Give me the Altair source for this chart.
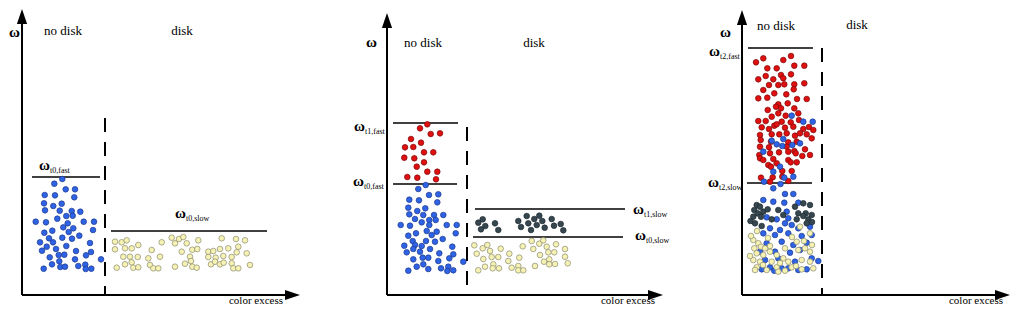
import altair as alt
import pandas as pd

# ---------------- data (page pixel coordinates) ----------------
p1_blue = [(62.3,179),(54.3,183.7),(65.7,189.3),(75,189.3),(44.7,195),(55,195.3),(74.3,197.3),(44,203.3),
           (53.3,206),(61.7,203.7),(45,210.3),(59.7,210.7),(71.7,211),(80.3,211.7),(57.3,218.7),(66.3,216),
           (72.7,215.7),(35.7,221.7),(46,222.3),(67.7,223.3),(83.7,221.7),(94,221.7),(63.3,227.3),(73.3,228.3),
           (44.3,232.7),(52.3,230.7),(68.7,232),(93,230),(79.3,235.7),(49,238.3),(62.3,237.7),(72,238.7),
           (40,242.3),(53,242.3),(46.7,246.7),(66.3,246),(90,243),(42,250.7),(56,249),(76,251),(91,252),
           (49.7,257.3),(58.7,255),(64.3,254.7),(86,255.3),(101,259.3),(75,259.3),(59.3,261.3),(52,264.3),
           (60.3,267),(65,266.7),(78.3,266),(85.3,264.7),(43.7,268.7),(85.7,269),(91.3,268.7)]
p1_yellow = [(115,241.7),(121.7,242.3),(126.7,240.3),(138.3,245),(115,249.3),(125,248.3),(131.7,248.3),
             (161.7,242.3),(171.7,237.7),(179,239),(183.3,237),(175,243.3),(186.7,243.3),(198.3,240.3),
             (221.7,238.3),(236,239),(245,240.3),(123.3,256.7),(130,256.7),(137.7,257),(151.7,250),
             (148.3,258.3),(160,256.7),(181.7,251.7),(192.3,249.7),(197.3,249),(190,256.7),(208.3,251.7),
             (213.3,251),(220,249),(228.3,248.3),(238.3,246.7),(236.7,252.3),(246.7,253.3),(208.3,257),
             (215.7,257.7),(223.3,256),(231.7,257),(116.7,267.7),(125,264.3),(131.7,262.3),(133.3,267.7),
             (138.3,267.3),(150,265),(153.3,268.3),(158.3,268.3),(175,266.7),(185,263.7),(191,261),
             (192.3,266.7),(196.7,267.7),(211,264.3),(215,261.7),(220,264.3),(223.7,262.7),(231.7,263.3),
             (233.3,268.3),(238.3,268.3),(250,265)]
p2_red = [(427.3,124.3),(420,128.3),(430.7,134),(440,133.3),(411,139),(421,142.7),(405,147.3),(413.3,147),
          (424,152.3),(433.3,152.3),(404.3,157.7),(414.3,158.3),(424,162.3),(416.7,166.7),(427.3,171.7),
          (437.3,171.7),(407.3,177),(417.3,177.7),(436,179.3)]
p2_blue = [(425.7,185),(418.3,189),(429,195),(438.3,194.3),(409.3,199.7),(419,200.3),(437.3,202.3),
           (408.3,207.7),(417.3,211),(425.3,208.3),(409.3,214.3),(423.3,215),(434,215),(443.3,215),(415,219),
           (429.3,220),(435.7,220),(421.7,222.3),(400.7,225),(410,225.7),(429.3,225),(446.7,225),(456.7,225),
           (426.7,231),(436.7,231.7),(455.7,233.3),(408.3,235.7),(416,233.3),(431.7,235),(412.7,241),(426,241),
           (435,241.7),(442.7,239),(404.3,245.7),(415,245),(421.7,246),(452.3,246.7),(406.7,252.3),(413.3,249),
           (420,251.7),(430,249),(439.3,253.3),(453.3,254.3),(413.3,259.3),(422.7,257.7),(428.3,257.7),
           (438.3,261),(449.3,258.3),(463.3,261.7),(416.7,266.7),(423.3,264.3),(428.3,269),(441,268.3),
           (448.3,266.7),(447.3,271),(453.3,270.3),(408.3,270.7)]
p2_gray = [(482.7,219.3),(478.3,222.7),(485.3,226),(481,229.3),(495,223.3),(498.3,230),(518.3,221),(521,227),
           (526.7,216),(528.3,223.3),(534.3,219),(539.3,215.7),(542.3,221),(536.7,225),(531,230),(544.7,227.7),
           (551.7,219),(554,225.7),(560.7,224),(563.3,230.3)]
p2_yellow = [(474.3,245.3),(482.7,248.3),(487.3,245),(476.7,253.7),(490,251),(500.7,248.7),(483.3,259),
             (491.7,257),(498.3,257),(509.3,253.7),(519.3,257.7),(522.7,246.3),(531.7,241),(533.3,249),
             (539.3,243.7),(543.3,240.3),(546.7,246.7),(556,244.3),(565,249),(540,255),(548.3,252.3),
             (554.3,252.3),(565,256.7),(485,266.7),(493.3,264.3),(492.7,268.3),(499,268.3),(508.3,261),
             (511.7,267.7),(518.3,266),(518.3,270.3),(523.3,270.3),(535,266),(544,261.7),(549.3,259.3),
             (549.3,264.3),(555,264),(567.7,263.3),(478.3,270.3)]
p3_red = [(756,62.3),(763.3,58.3),(783.3,60),(791,56),(767.3,68.3),(776.7,68.3),(794.3,65.7),(804.3,65.7),
          (758.3,79.3),(765.7,76),(773.3,79.3),(781,75),(783.3,78.3),(791,74.3),(763.3,90),(769,85),(778.3,85),
          (784.3,84.3),(794.3,84.3),(804.3,83.3),(793.7,89.3),(758.3,98.3),(767.3,97.7),(774.3,93.3),
          (786.3,94.3),(797,99),(806.7,99),(778.3,104.3),(787.7,103.3),(767.7,110),(776,106.7),(781,108.3),
          (794.3,108.3),(771.7,116.7),(778.3,113.3),(785.7,115.7),(798.3,113.3),(758.3,121),(765.7,121),
          (774.3,125.7),(781.7,121.7),(790.7,122.3),(799,120),(761.7,127.3),(769,129),(776.7,124.3),
          (785,127.7),(793.3,126.7),(803.3,129),(809,127),(813.3,130),(760,135),(771.7,134.3),(779.3,134.3),
          (786.7,133.3),(795,135.7),(800,133.3),(806.7,134.3),(811.7,138.3),(760.7,140),(771,141.7),
          (788.3,142.3),(796.7,141.7),(760,146.7),(769,147.3),(786.7,146.7),(794.3,151),
          (805,149.3),(759.3,155),(770,153.3),(779,152.3),(788.3,151.7),(795.7,153.3),(810,155),(802.3,156),
          (760,158.3),(763.3,160),(773.3,159),(788.3,160),(768.3,165),(776.7,163.3),(790.7,162.3),
          (796.7,162.3),(771,166.7),(782.3,171),(791.7,171),(761,177.7),(772.7,177.3),(782.3,176.7),
          (788.3,181),(770,181.7)]
p3_blue = [(791.7,115.7),(803.3,121.7),(812.7,121.7),(783.3,139),(771.7,140.7),(776.7,144.3),(782.3,146),
           (792.3,145),(800,143.3),(763.3,151.7),(780,166.7),(773.3,171.7),(784.3,177.7),(793.3,176.7),
           (764,181.7),(780.5,184),(773.3,188.3),(785,194),(793.3,194),(763.3,200),(773.3,201.7),(784.3,202.7),
           (798.3,202.7),(786.7,211.7),(766.7,217.3),(776.7,219.3),(788.3,218.3),(785,223.3),(791.7,225),
           (770,228.3),(780,230),(798.3,228.3),(810,226.7),(763.3,233.3),(775,235),(788.3,233.3),(801.7,236),
           (811.7,235),(766.7,243.3),(781.7,241.7),(793.3,245),(806.7,242.7),(760,251.7),(775,251.7),
           (790,252.7),(800,250),(765,260),(778.3,258.3),(795,261.7),(811.7,258.3),(818.3,261),(761.7,269.3),
           (770,267.3),(781.7,268.3),(788.3,268.3),(798.3,270),(806.7,269.3),(774.3,270.7)]
p3_gray = [(756.7,205),(760,206.7),(754.3,210),(757.7,213.3),(763.3,211.7),(767.7,209.3),(753.3,216.7),
           (761,216.7),(778.3,210),(783.3,215),(795,206.7),(803.3,203.3),(810,205),(798.3,213.3),(805.7,213.3),
           (811.7,215),(803.3,216),(808.3,219.3),(755,223.3),(761.7,226),(796.7,219.3),(806.7,223.3),
           (771.7,219.3),(812,222),(750.5,221)]
p3_yellow = [(753.3,240),(758.3,243.3),(754.3,248.3),(761,246.7),(765,248.3),(770,246),(756.7,253.3),
             (763.3,255),(770,251.7),(776.7,255),(785,248.3),(796.7,241.7),(798.3,250),(805,248.3),(810,251.7),
             (753.3,260),(760,261.7),(771.7,261.7),(783.3,258.3),(788.3,261.7),(801.7,260),(810,261.7),
             (756.7,267.3),(766.7,270),(776.7,267.3),(785,270.7),(791.7,267.3),(801.7,269.3),(755,270),
             (813.3,268.3),(778.3,271.7),(800,226.7),(810,233.3),(751,236),(768,238),(792,237),(804,241),
             (763,265),(796,266),(812,245),(750,256),(780,263),(757,231)]

groups = [("blue", p1_blue), ("yellow", p1_yellow), ("red", p2_red), ("blue", p2_blue), ("gray", p2_gray),
          ("yellow", p2_yellow), ("red", p3_red), ("blue", p3_blue), ("gray", p3_gray), ("yellow", p3_yellow)]
rows = []
for g, pts in groups:
    for x, y in pts:
        rows.append({"x": x, "y": y, "g": g})
points = pd.DataFrame(rows)

# axes: y-axis x, arrow apex (top), arrow apex (right)
axis_x = [22, 387, 742]
apex_top = [9, 13, 10]
apex_right = [300, 663, 1010]
baseline = 295

# dashed disk boundaries
dash_x = [105, 467, 822]
dash_top = [118, 127, 48]

# threshold lines
th_x = [32, 111, 393, 393, 475, 473, 748, 747]
th_x2 = [100, 267, 458, 457, 625, 623, 813, 812]
th_y = [177, 231, 123, 184, 209, 237, 48, 183]
th_sub = ["t0,fast", "t0,slow", "t1,fast", "t0,fast", "t1,slow", "t0,slow", "t2,fast", "t2,slow"]
th_lx = [39, 175, 354, 353, 633, 635, 709, 708]
th_ly = [165, 213, 126, 181, 209, 235, 51, 182]

# ---------------- build ----------------
W, H = 1003, 299
X = alt.Scale(domain=[8, 8 + W])
Y = alt.Scale(domain=[8, 8 + H], reverse=True)

def xe(f="x"):
    return alt.X(f"{f}:Q", scale=X, axis=None)

def ye(f="y"):
    return alt.Y(f"{f}:Q", scale=Y, axis=None)

AH = 15  # arrow head length
axes_v = pd.DataFrame({"x": axis_x, "y": [a + AH / 2 for a in apex_top], "y2": [baseline] * 3})
axes_h = pd.DataFrame({"x": axis_x, "x2": [a - AH / 2 for a in apex_right], "y": [baseline] * 3})
l_av = alt.Chart(axes_v).mark_rule(color="black", strokeWidth=2).encode(x=xe(), y=ye(), y2="y2:Q")
l_ah = alt.Chart(axes_h).mark_rule(color="black", strokeWidth=2).encode(x=xe(), x2="x2:Q", y=ye())
up = pd.DataFrame({"x": axis_x, "y": [a + AH / 2 for a in apex_top]})
rt = pd.DataFrame({"x": [a - AH / 2 for a in apex_right], "y": [baseline] * 3})
l_up = alt.Chart(up).mark_point(shape="M0,-1L0.68,1L-0.68,1Z", filled=True, color="black",
                                 size=AH * AH, opacity=1).encode(x=xe(), y=ye())
l_rt = alt.Chart(rt).mark_point(shape="M1,0L-1,-0.68L-1,0.68Z", filled=True, color="black",
                                 size=AH * AH, opacity=1).encode(x=xe(), y=ye())

dash = pd.DataFrame({"x": dash_x, "y": dash_top, "y2": [baseline] * 3})
l_dash = alt.Chart(dash).mark_rule(color="black", strokeWidth=2, strokeDash=[14, 10]).encode(
    x=xe(), y=ye(), y2="y2:Q")

th = pd.DataFrame({"x": th_x, "x2": th_x2, "y": th_y})
l_th = alt.Chart(th).mark_rule(color="black", strokeWidth=1.6).encode(x=xe(), x2="x2:Q", y=ye())

lab = pd.DataFrame({"x": th_lx, "y": th_ly, "sub": th_sub})
l_om = alt.Chart(lab).mark_text(text="ω", font="Liberation Serif", fontWeight="bold", fontSize=15,
                                 align="left", baseline="middle", color="black").encode(x=xe(), y=ye())
l_sub = alt.Chart(lab).transform_calculate(xs="datum.x + 11", ys="datum.y + 6").mark_text(
    font="Liberation Serif", fontSize=8, align="left", baseline="middle", color="black").encode(
    x=xe("xs"), y=ye("ys"), text="sub:N")

ax_lab = pd.DataFrame({"x": [9, 366, 720], "y": [32, 42, 32]})
l_axom = alt.Chart(ax_lab).mark_text(text="ω", font="Liberation Serif", fontWeight="bold", fontSize=15,
                                      align="left", baseline="middle", color="black").encode(x=xe(), y=ye())

texts = pd.DataFrame({
    "x": [63, 182, 423, 534, 776, 857],
    "y": [31, 31, 43, 43, 26, 25],
    "t": ["no disk", "disk", "no disk", "disk", "no disk", "disk"],
})
l_txt = alt.Chart(texts).mark_text(font="Liberation Serif", fontSize=13, align="center",
                                    baseline="middle", color="black").encode(x=xe(), y=ye(), text="t:N")
xlab = pd.DataFrame({"x": [256, 628, 976], "y": [306, 306, 306], "t": ["color excess"] * 3})
l_xlab = alt.Chart(xlab).mark_text(font="Liberation Serif", fontSize=11, align="center",
                                    baseline="bottom", color="black").encode(x=xe(), y=ye(), text="t:N")

l_pts = alt.Chart(points).mark_circle(size=32, opacity=1, strokeWidth=0.7).encode(
    x=xe(), y=ye(),
    fill=alt.Fill("g:N", scale=alt.Scale(domain=["blue", "red", "gray", "yellow"],
                                         range=["#2f63e6", "#e01010", "#36474f", "#f6f2b4"]), legend=None),
    stroke=alt.Stroke("g:N", scale=alt.Scale(domain=["blue", "red", "gray", "yellow"],
                                             range=["#1d3a8a", "#7a0a0a", "#1e2a30", "#8a8a70"]), legend=None),
)

chart = alt.layer(l_av, l_ah, l_up, l_rt, l_dash, l_th, l_pts, l_om, l_sub, l_axom, l_txt, l_xlab).properties(
    width=W, height=H, padding=0, autosize=alt.AutoSizeParams(type="none")
).configure_view(stroke=None)

chart.save("out.html", embed_options={"renderer": "svg", "actions": False})
